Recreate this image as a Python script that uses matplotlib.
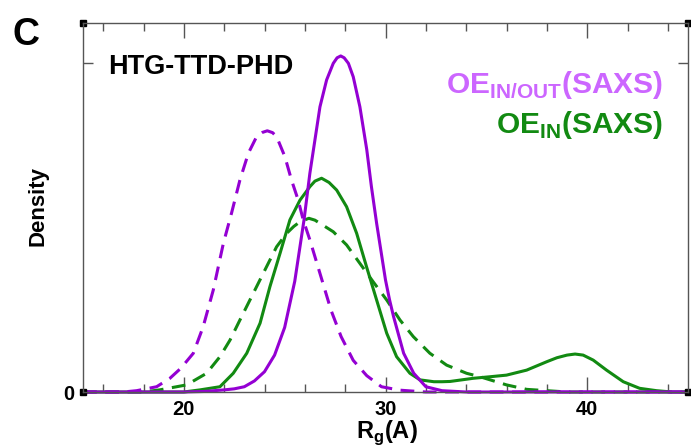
import matplotlib
matplotlib.use("Agg")
import matplotlib.pyplot as plt

# === Fonts ===
plt.rcParams['font.family'] = ['Liberation Sans', 'DejaVu Sans']
plt.rcParams['font.weight'] = 'bold'
plt.rcParams['mathtext.fontset'] = 'custom'
plt.rcParams['mathtext.rm'] = 'Liberation Sans:bold'
plt.rcParams['mathtext.bf'] = 'Liberation Sans:bold'

# === Data ===
in_out_x = [15, 20, 21, 22, 22.5, 23, 23.5, 24, 24.5, 25, 25.5, 25.96, 26.25, 26.5, 26.75, 27.08, 27.41,
            27.6, 27.78, 27.95, 28.16, 28.4, 28.73, 29.07, 29.3, 29.56, 30.0, 30.2, 30.4, 30.9, 31.4, 32.0,
            32.8, 34, 45]
in_out_y = [0, 0, 0.0002, 0.0008, 0.0012, 0.002, 0.0042, 0.0077, 0.014, 0.0245, 0.042, 0.0653, 0.083,
            0.0956, 0.1082, 0.1184, 0.1247, 0.1268, 0.1275, 0.1268, 0.1247, 0.1196, 0.1082, 0.092, 0.078,
            0.064, 0.0425, 0.035, 0.0286, 0.0147, 0.0071, 0.002, 0.0005, 0, 0]

in_out_dash_x = [15, 17.0, 17.66, 18.65, 19.31, 19.85, 20.47, 20.96, 21.46, 21.96, 22.37, 22.78, 23.2, 23.61,
                 23.9, 24.14, 24.4, 24.6, 25.01, 25.34, 25.67, 25.92, 26.25, 26.75, 27.3, 27.8, 28.4, 29.07,
                 29.8, 30.7, 32, 45]
in_out_dash_y = [0, 0, 0.0005, 0.002, 0.0052, 0.009, 0.0147, 0.0248, 0.0387, 0.0564, 0.068, 0.0804, 0.0906,
                 0.0969, 0.0985, 0.0991, 0.0984, 0.0969, 0.0893, 0.0804, 0.0728, 0.0653, 0.0577, 0.045, 0.031,
                 0.021, 0.012, 0.0062, 0.002, 0.0007, 0, 0]

in_x = [15, 20, 20.8, 21.79, 22.45, 23.12, 23.78, 24.27, 24.77, 25.26, 25.76, 26.25, 26.5, 26.83, 27.2,
        27.58, 28.07, 28.57, 29.06, 29.56, 30.06, 30.55, 31.21, 31.71, 32.4, 32.8, 33.2, 34.35, 35.2, 36.0,
        37.0, 38.0, 38.5, 39.0, 39.4, 39.8, 40.3, 40.96, 41.79, 42.6, 43.44, 44.2, 45]
in_y = [0, 0, 0.0008, 0.002, 0.0071, 0.0147, 0.0261, 0.040, 0.0526, 0.0653, 0.0728, 0.0779, 0.0800, 0.0811,
        0.0795, 0.0766, 0.0703, 0.0602, 0.0475, 0.0349, 0.0223, 0.0134, 0.0071, 0.0046, 0.0039, 0.0039,
        0.0040, 0.0052, 0.0058, 0.0064, 0.0083, 0.0115, 0.013, 0.014, 0.0144, 0.0140, 0.0121, 0.0083,
        0.0039, 0.0014, 0.0005, 0, 0]

in_dash_x = [15, 18, 18.8, 20.14, 21.13, 21.79, 22.29, 22.78, 23.44, 24.1, 24.6, 25.1, 25.45, 25.76, 26.2,
             26.5, 26.75, 27.41, 28.07, 28.73, 29.39, 30.06, 30.72, 31.38, 32.2, 33.03, 34.02, 34.68, 36.0,
             37.0, 38.0, 39, 45]
in_dash_y = [0, 0, 0.0008, 0.0027, 0.0071, 0.0134, 0.0197, 0.0273, 0.0374, 0.0475, 0.0551, 0.0602, 0.0628,
             0.0646, 0.0659, 0.0652, 0.064, 0.0608, 0.0558, 0.0488, 0.0418, 0.0349, 0.0273, 0.021, 0.0147,
             0.0102, 0.0071, 0.0058, 0.0027, 0.001, 0.0005, 0, 0]

x_major = [20, 30, 40]
x_minor = [16, 18, 22, 24, 26, 28, 32, 34, 36, 38, 42, 44]
y_ticks = [0, 0.125]
y_labels = ["0", ""]

# === Colors ===
violet = "#9400D3"
violet_text = "#CC66FF"
green = "#128A12"
spine_col = "#555555"

# === Figure ===
fig = plt.figure(figsize=(6.91, 4.47), dpi=100)
ax = fig.add_axes([83 / 691, 1 - 392 / 447, 605 / 691, 369 / 447])

dash = (4.5, 2.8)
ax.plot(in_dash_x, in_dash_y, color=green, lw=2.2, dashes=dash, clip_on=False)
ax.plot(in_x, in_y, color=green, lw=2.2, clip_on=False)
ax.plot(in_out_dash_x, in_out_dash_y, color=violet, lw=2.2, dashes=dash, clip_on=False)
ax.plot(in_out_x, in_out_y, color=violet, lw=2.2, clip_on=False)

ax.set_xlim(15, 45)
ax.set_ylim(0, 0.14)

# ticks inward on all four sides
ax.set_xticks(x_major)
ax.set_xticks(x_minor, minor=True)
ax.set_yticks(y_ticks)
ax.set_yticklabels(y_labels)
ax.tick_params(axis='both', which='both', direction='in', top=True, right=True,
               color=spine_col, width=1.0, labelsize=14.5, pad=6)
ax.tick_params(axis='x', which='major', length=11)
ax.tick_params(axis='x', which='minor', length=6)
ax.tick_params(axis='y', which='major', length=7)
for lab in ax.get_xticklabels() + ax.get_yticklabels():
    lab.set_fontweight('bold')
for sp in ax.spines.values():
    sp.set_color(spine_col)
    sp.set_linewidth(1.0)

# small corner squares
for cx, cy in [(0, 0), (1, 0), (0, 1), (1, 1)]:
    ax.plot([cx], [cy], marker='s', ms=5, color='black', transform=ax.transAxes, clip_on=False)

# === Text ===
ax.text(0.041, 0.862, "HTG-TTD-PHD", transform=ax.transAxes, fontsize=19.5, fontweight='bold',
        ha='left', va='baseline')
ax.text(0.9587, 0.810, r"OE$_\mathbf{IN/OUT}$(SAXS)", transform=ax.transAxes, fontsize=21.5,
        fontweight='bold', color=violet_text, ha='right', va='baseline')
ax.text(0.9587, 0.702, r"OE$_\mathbf{IN}$(SAXS)", transform=ax.transAxes, fontsize=21.5,
        fontweight='bold', color=green, ha='right', va='baseline')

fig.text(12 / 691, 1 - 45 / 447, "C", fontsize=27, fontweight='bold', ha='left', va='baseline')
fig.text(38 / 691, 1 - 206 / 447, "Density", fontsize=16, fontweight='bold', rotation=90,
         ha='center', va='center')
fig.text(387 / 691, 1 - 438 / 447, r"R$_\mathbf{g}$(A)", fontsize=17, fontweight='bold',
         ha='center', va='baseline')

fig.savefig("out.png", dpi=100)
